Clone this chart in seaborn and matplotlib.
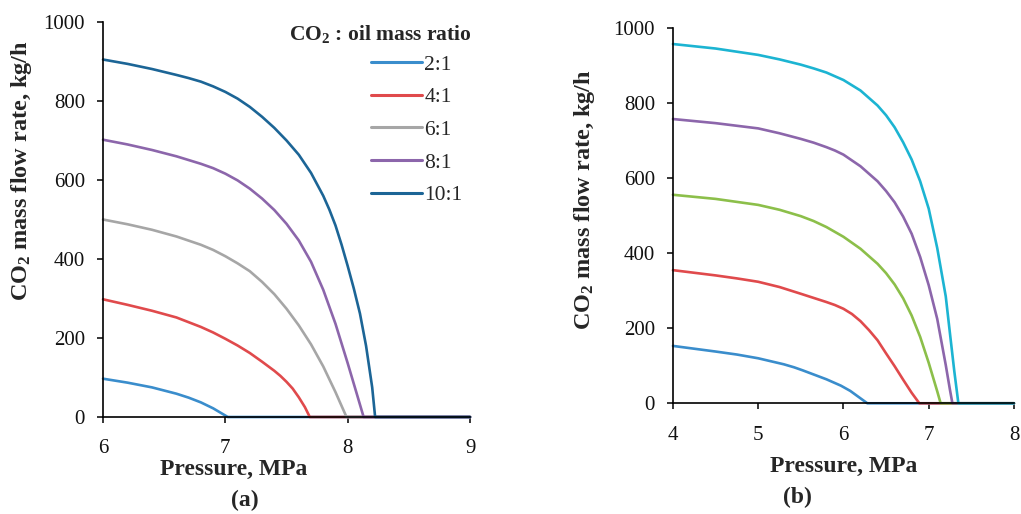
import matplotlib
matplotlib.use("Agg")
import matplotlib.pyplot as plt
import pandas as pd
import seaborn as sns

# ---- Panel (a): CO2 mass flow vs. pressure, 6-9 MPa ----
ratios_a = ["2:1", "4:1", "6:1", "8:1", "10:1"]
colors_a = ["#3a8dcc", "#e04a4c", "#a6a6a6", "#8c66ab", "#1c6596"]

p_a_2 = [6.0, 6.2, 6.4, 6.6, 6.7, 6.8, 6.9, 7.02, 9.0]
q_a_2 = [97, 87, 75, 59, 49, 37, 22, 0, 0]
p_a_4 = [6.0, 6.2, 6.4, 6.6, 6.8, 6.9, 7.0, 7.1, 7.2, 7.3, 7.4, 7.45, 7.5, 7.55, 7.6,
         7.65, 7.69, 9.0]
q_a_4 = [298, 284, 269, 252, 228, 214, 198, 181, 162, 140, 117, 104, 89, 72, 50, 25,
         0, 0]
p_a_6 = [6.0, 6.2, 6.4, 6.6, 6.8, 6.9, 7.0, 7.1, 7.2, 7.3, 7.4, 7.5, 7.6, 7.7, 7.8,
         7.9, 7.99, 9.0]
q_a_6 = [500, 488, 474, 457, 436, 423, 407, 389, 369, 342, 311, 274, 232, 184, 128,
         63, 0, 0]
p_a_8 = [6.0, 6.2, 6.4, 6.6, 6.8, 6.9, 7.0, 7.1, 7.2, 7.3, 7.4, 7.5, 7.6, 7.7, 7.8,
         7.9, 8.0, 8.07, 8.13, 9.0]
q_a_8 = [702, 690, 676, 660, 641, 630, 616, 599, 578, 553, 524, 489, 447, 393, 322,
         236, 136, 63, 0, 0]
p_a_10 = [6.0, 6.2, 6.4, 6.6, 6.7, 6.8, 6.9, 7.0, 7.1, 7.2, 7.3, 7.4, 7.5, 7.6, 7.7,
          7.8, 7.85, 7.9, 7.95, 8.0, 8.05, 8.1, 8.15, 8.2, 8.224, 9.0]
q_a_10 = [905, 894, 881, 866, 858, 849, 837, 823, 806, 785, 760, 732, 700, 664, 618,
          560, 525, 485, 436, 382, 325, 262, 180, 75, 0, 0]

# ---- Panel (b): CO2 mass flow vs. pressure, 4-8 MPa ----
ratios_b = ["2:1", "4:1", "6:1", "8:1", "10:1"]
colors_b = ["#3a8dcc", "#e04a4c", "#8cbf4a", "#8c66ab", "#1cb4d2"]

p_b_1 = [4.0, 4.5, 4.75, 5.0, 5.15, 5.3, 5.42, 5.52, 5.8, 5.97, 6.08, 6.28, 8.0]
q_b_1 = [153, 138, 130, 120, 112, 104, 96, 88, 64, 47, 33, 0, 0]
p_b_2 = [4.0, 4.5, 4.75, 5.0, 5.25, 5.5, 5.8, 5.9, 6.0, 6.1, 6.2, 6.3, 6.4, 6.5, 6.6,
         6.7, 6.8, 6.89, 8.0]
q_b_2 = [355, 341, 333, 324, 310, 292, 270, 262, 252, 238, 219, 195, 168, 133, 99,
         63, 28, 0, 0]
p_b_3 = [4.0, 4.5, 5.0, 5.25, 5.5, 5.65, 5.8, 6.0, 6.2, 6.4, 6.5, 6.6, 6.7, 6.8, 6.9,
         7.0, 7.1, 7.14, 8.0]
q_b_3 = [556, 545, 529, 516, 499, 486, 470, 444, 412, 372, 347, 317, 280, 234, 177,
         108, 32, 0, 0]
p_b_4 = [4.0, 4.5, 5.0, 5.25, 5.5, 5.65, 5.8, 5.9, 6.0, 6.2, 6.4, 6.5, 6.6, 6.7, 6.8,
         6.9, 7.0, 7.1, 7.2, 7.25, 7.278, 8.0]
q_b_4 = [758, 747, 733, 720, 705, 695, 683, 674, 663, 632, 592, 566, 536, 498, 452,
         390, 315, 225, 102, 35, 0, 0]
p_b_5 = [4.0, 4.5, 5.0, 5.25, 5.5, 5.65, 5.8, 6.0, 6.2, 6.4, 6.5, 6.6, 6.7, 6.8, 6.9,
         7.0, 7.1, 7.2, 7.25, 7.3, 7.348, 8.0]
q_b_5 = [958, 946, 929, 917, 903, 893, 882, 862, 834, 794, 768, 736, 696, 650, 592,
         519, 414, 285, 185, 86, 0, 0]

x_ticks_a = [6, 7, 8, 9]
x_ticks_b = [4, 5, 6, 7, 8]
y_ticks = [0, 200, 400, 600, 800, 1000]


def long_frame(labels, xs, ys):
    parts = [pd.DataFrame({"Pressure": x, "Flow": y, "Ratio": lab})
             for lab, x, y in zip(labels, xs, ys)]
    return pd.concat(parts, ignore_index=True)


df_a = long_frame(ratios_a, [p_a_2, p_a_4, p_a_6, p_a_8, p_a_10],
                  [q_a_2, q_a_4, q_a_6, q_a_8, q_a_10])
df_b = long_frame(ratios_b, [p_b_1, p_b_2, p_b_3, p_b_4, p_b_5],
                  [q_b_1, q_b_2, q_b_3, q_b_4, q_b_5])

sns.set_theme(style="ticks")
plt.rcParams["font.family"] = ["Liberation Serif", "DejaVu Serif"]
plt.rcParams["mathtext.fontset"] = "custom"
plt.rcParams["mathtext.rm"] = "Liberation Serif"
plt.rcParams["mathtext.it"] = "Liberation Serif:italic"
plt.rcParams["mathtext.bf"] = "Liberation Serif:bold"

fig = plt.figure(figsize=(10.21, 5.14), dpi=100)
ax1 = fig.add_axes([0.1009, 0.1887, 0.3595, 0.7685])
ax2 = fig.add_axes([0.6591, 0.2154, 0.3340, 0.7296])

sns.lineplot(data=df_a, x="Pressure", y="Flow", hue="Ratio", hue_order=ratios_a,
             palette=colors_a, estimator=None, sort=False, linewidth=1.9, ax=ax1)
sns.lineplot(data=df_b, x="Pressure", y="Flow", hue="Ratio", hue_order=ratios_b,
             palette=colors_b, estimator=None, sort=False, linewidth=1.9, ax=ax2,
             legend=False)

ylabel = r"CO$_\mathbf{2}$ mass flow rate, kg/h"
for ax, xt, xlim in ((ax1, x_ticks_a, (6, 9)), (ax2, x_ticks_b, (4, 8))):
    ax.set_xlim(*xlim)
    ax.set_ylim(0, 1000)
    ax.set_xticks(xt)
    ax.set_yticks(y_ticks)
    sns.despine(ax=ax)
    for side in ("left", "bottom"):
        ax.spines[side].set_color("black")
        ax.spines[side].set_linewidth(1.2)
    ax.tick_params(direction="out", length=4, width=1.1, color="black",
                   labelsize=15, labelcolor="#111111")
    ax.tick_params(axis="x", pad=12)
    ax.tick_params(axis="y", pad=9)
    for ln in ax.lines:
        ln.set_clip_on(False)
        ln.set_solid_joinstyle("round")
    ax.set_xlabel("Pressure, MPa", fontsize=17, fontweight="bold")
    ax.set_ylabel(ylabel, fontsize=17.5, fontweight="bold")
    ax.xaxis.label.set_va("center")
    ax.yaxis.label.set_va("center")

ax1.xaxis.set_label_coords(0.357, -0.133)
ax1.yaxis.set_label_coords(-0.221, 0.623)
ax2.xaxis.set_label_coords(0.501, -0.168)
ax2.yaxis.set_label_coords(-0.258, 0.542)

ax1.text(0.387, -0.21, "(a)", transform=ax1.transAxes, ha="center", va="center",
         fontsize=17, fontweight="bold")
ax2.text(0.364, -0.252, "(b)", transform=ax2.transAxes, ha="center", va="center",
         fontsize=17, fontweight="bold")

# legend: heading above, entries listed below its right part
ax1.text(1.005, 0.970, r"CO$_\mathbf{2}$ : oil mass ratio", transform=ax1.transAxes,
         ha="right", va="center", fontsize=15.5, fontweight="bold")
handles, labels = ax1.get_legend_handles_labels()
for h in handles:
    h.set_linewidth(2.2)
ax1.legend(handles, labels, fontsize=15.5, frameon=False, loc="upper left",
           bbox_to_anchor=(0.730, 0.917), borderaxespad=0, borderpad=0,
           handlelength=2.35, handletextpad=0.12, labelspacing=0.58)

fig.savefig("out.png", dpi=100, facecolor="white")
